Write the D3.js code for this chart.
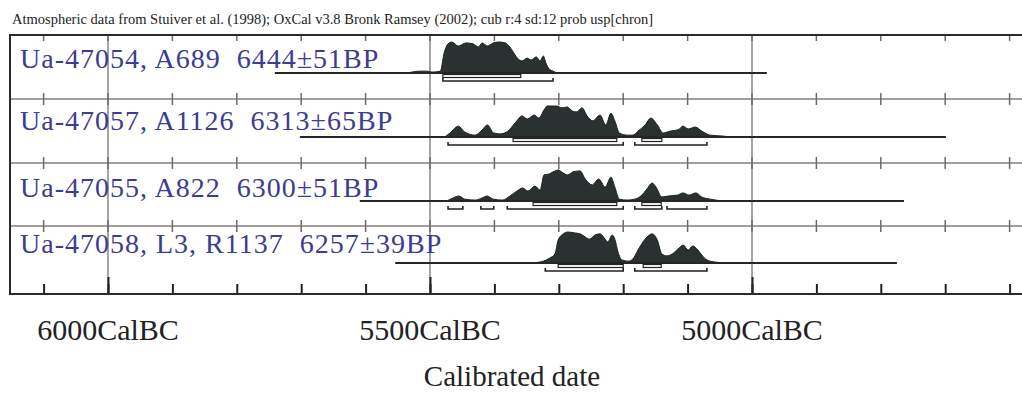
<!DOCTYPE html>
<html>
<head>
<meta charset="utf-8">
<script src="https://cdn.jsdelivr.net/npm/d3@7"></script>
<style>
  body { margin: 0; background: #fff; }
  svg { display: block; }
  text { font-family: "Liberation Serif", "Times New Roman", serif; }
</style>
</head>
<body>
<div id="chart"></div>
<script>
// OxCal multiplot: four calibrated radiocarbon dates (years BC on x)
var header = "Atmospheric data from Stuiver et al. (1998); OxCal v3.8 Bronk Ramsey (2002); cub r:4 sd:12 prob usp[chron]";
var labels = ["Ua-47054, A689  6444\u00b151BP", "Ua-47057, A1126  6313\u00b165BP", "Ua-47055, A822  6300\u00b151BP", "Ua-47058, L3, R1137  6257\u00b139BP"];
var tickYears = [6100, 6000, 5900, 5800, 5700, 5600, 5500, 5400, 5300, 5200, 5100, 5000, 4900, 4800, 4700, 4600];
var majorYears = [6000, 5500, 5000];
var majorLabels = ["6000CalBC", "5500CalBC", "5000CalBC"];
var axisTitle = "Calibrated date";

// extent of the calibration line of each row
var plotRanges = [[5741, 4977], [5702, 4699], [5609, 4764], [5554, 4775]];

// probability distributions [year BC, relative prob %]
var dist1 = [[5535, 0], [5528, 3], [5516, 6], [5505, 6], [5497, 3], [5484, 6], [5478, 65], [5472, 94], [5466, 100], [5456, 87], [5444, 97], [5433, 94], [5425, 84], [5419, 97], [5411, 87], [5402, 97], [5393, 100], [5383, 97], [5376, 84], [5370, 65], [5363, 45], [5357, 39], [5349, 48], [5343, 42], [5335, 52], [5329, 39], [5324, 55], [5320, 32], [5315, 13], [5309, 6], [5303, 0]];
var dist2 = [[5477, 0], [5469, 13], [5456, 35], [5446, 16], [5430, 6], [5419, 23], [5411, 39], [5401, 13], [5391, 10], [5379, 19], [5368, 45], [5357, 68], [5349, 58], [5338, 71], [5331, 61], [5323, 87], [5318, 100], [5303, 100], [5295, 94], [5287, 97], [5279, 84], [5272, 81], [5264, 94], [5256, 68], [5247, 52], [5236, 71], [5227, 39], [5219, 77], [5213, 52], [5206, 13], [5194, 6], [5185, 6], [5177, 19], [5166, 39], [5157, 61], [5147, 39], [5138, 13], [5127, 19], [5115, 23], [5107, 35], [5099, 26], [5088, 32], [5078, 19], [5065, 6], [5045, 3], [5034, 0]];
var dist3 = [[5474, 0], [5464, 10], [5455, 16], [5446, 6], [5430, 3], [5419, 10], [5411, 16], [5402, 6], [5387, 3], [5376, 16], [5365, 32], [5356, 42], [5348, 32], [5337, 48], [5329, 35], [5323, 84], [5315, 87], [5309, 94], [5301, 100], [5293, 90], [5286, 84], [5278, 94], [5267, 97], [5259, 71], [5248, 52], [5238, 71], [5228, 45], [5219, 77], [5213, 45], [5206, 6], [5194, 3], [5182, 6], [5171, 19], [5163, 39], [5155, 58], [5149, 45], [5140, 13], [5130, 16], [5116, 19], [5107, 26], [5098, 19], [5087, 26], [5078, 13], [5065, 6], [5045, 0]];
var dist4 = [[5365, 0], [5340, 1], [5324, 6], [5314, 16], [5306, 29], [5301, 74], [5293, 94], [5286, 100], [5275, 97], [5267, 94], [5259, 84], [5252, 77], [5244, 90], [5236, 94], [5228, 77], [5224, 68], [5217, 90], [5213, 77], [5208, 35], [5202, 10], [5192, 6], [5185, 13], [5177, 42], [5166, 77], [5155, 94], [5147, 74], [5140, 29], [5132, 23], [5124, 29], [5115, 45], [5107, 58], [5099, 42], [5092, 55], [5084, 42], [5078, 26], [5070, 10], [5057, 3], [5039, 0]];
var dists = [dist1, dist2, dist3, dist4];

// 68.2% and 95.4% ranges
var range68 = [[[5480, 5359]], [[5371, 5210], [5171, 5140]], [[5340, 5210], [5171, 5141]], [[5301, 5200], [5169, 5141]]];
var range95 = [[[5480, 5309]], [[5472, 5200], [5182, 5070]], [[5472, 5449], [5421, 5401], [5380, 5200], [5182, 5140], [5132, 5070]], [[5321, 5200], [5182, 5070]]];

var width = 1022, height = 394;
var svg = d3.select("#chart").append("svg").attr("width", width).attr("height", height);

var x = d3.scaleLinear().domain([6000, 5000]).range([108, 752]);
var h = d3.scaleLinear().domain([0, 100]).range([0, 31]);

var frameTop = 35, frameBottom = 294, frameLeft = 10;
var separators = [99, 163, 226];
var baseY = [73, 137, 201, 263];
var labelY = [68, 130, 197, 253];

// header
svg.append("text").attr("x", 12).attr("y", 24)
    .attr("font-size", 14.5).attr("fill", "#222").text(header);

// vertical grid lines
svg.selectAll("line.grid").data(majorYears).enter().append("line")
    .attr("class", "grid")
    .attr("x1", function (d) { return x(d); }).attr("x2", function (d) { return x(d); })
    .attr("y1", frameTop).attr("y2", frameBottom)
    .attr("stroke", "#7a7272").attr("stroke-width", 1.3);

// row separators
svg.selectAll("line.sep").data(separators).enter().append("line")
    .attr("class", "sep")
    .attr("x1", frameLeft).attr("x2", width + 10)
    .attr("y1", function (d) { return d; }).attr("y2", function (d) { return d; })
    .attr("stroke", "#857d7d").attr("stroke-width", 1.5);

// small ticks on top frame and on separators
var ticks = svg.append("g").attr("stroke", "#6f6868").attr("stroke-width", 1.5);
ticks.selectAll("line.top").data(tickYears).enter().append("line")
    .attr("x1", function (d) { return x(d); }).attr("x2", function (d) { return x(d); })
    .attr("y1", frameTop).attr("y2", frameTop + 6);
separators.forEach(function (sy) {
    ticks.selectAll(null).data(tickYears).enter().append("line")
        .attr("x1", function (d) { return x(d); }).attr("x2", function (d) { return x(d); })
        .attr("y1", sy - 6).attr("y2", sy + 6);
});

// bottom axis ticks
var axis = svg.append("g").attr("transform", "translate(0," + frameBottom + ")")
    .call(d3.axisTop(x).tickValues(tickYears).tickSize(10).tickFormat(""));
axis.select(".domain").remove();
axis.selectAll(".tick line").attr("stroke", "#222").attr("stroke-width", 2);
var axisMajor = svg.append("g").attr("transform", "translate(0," + frameBottom + ")")
    .call(d3.axisTop(x).tickValues(majorYears).tickSize(17).tickFormat(""));
axisMajor.select(".domain").remove();
axisMajor.selectAll(".tick line").attr("stroke", "#222").attr("stroke-width", 2);

// labels
svg.selectAll("text.label").data(labels).enter().append("text")
    .attr("class", "label")
    .attr("x", 20).attr("y", function (d, i) { return labelY[i]; })
    .attr("font-size", 28).attr("letter-spacing", 1)
    .attr("fill", "#3c3c92")
    .style("white-space", "pre")
    .text(function (d) { return d; });

// rows
dists.forEach(function (dist, i) {
    var yb = baseY[i];
    var g = svg.append("g").attr("class", "row");
    var area = d3.area()
        .x(function (d) { return x(d[0]); })
        .y0(yb)
        .y1(function (d) { return yb - h(d[1]); })
        .curve(d3.curveMonotoneX);
    g.append("path").datum(dist).attr("d", area)
        .attr("fill", "#2b3130").attr("stroke", "#1e2222").attr("stroke-width", 1);
    g.append("line")
        .attr("x1", x(plotRanges[i][0])).attr("x2", x(plotRanges[i][1]))
        .attr("y1", yb).attr("y2", yb)
        .attr("stroke", "#262626").attr("stroke-width", 2);
    g.selectAll("rect").data(range68[i]).enter().append("rect")
        .attr("x", function (d) { return x(d[0]); })
        .attr("width", function (d) { return x(d[1]) - x(d[0]); })
        .attr("y", yb + 1.5).attr("height", 3)
        .attr("fill", "#fff").attr("stroke", "#222").attr("stroke-width", 1.2);
    g.selectAll("path.r95").data(range95[i]).enter().append("path")
        .attr("class", "r95")
        .attr("d", function (d) {
            return "M" + x(d[0]) + "," + (yb + 5) + "V" + (yb + 8) + "H" + x(d[1]) + "V" + (yb + 5);
        })
        .attr("fill", "none").attr("stroke", "#222").attr("stroke-width", 1.6);
});

// frame
svg.append("rect").attr("x", frameLeft).attr("y", frameTop)
    .attr("width", width + 20).attr("height", frameBottom - frameTop)
    .attr("fill", "none").attr("stroke", "#2a2a2a").attr("stroke-width", 2);

// axis labels
svg.selectAll("text.tl").data(majorYears).enter().append("text")
    .attr("class", "tl")
    .attr("x", function (d) { return x(d); }).attr("y", 340)
    .attr("text-anchor", "middle").attr("font-size", 30).attr("fill", "#222")
    .text(function (d, i) { return majorLabels[i]; });
svg.append("text").attr("x", 512).attr("y", 386)
    .attr("text-anchor", "middle").attr("font-size", 29).attr("fill", "#222")
    .text(axisTitle);
</script>
</body>
</html>
